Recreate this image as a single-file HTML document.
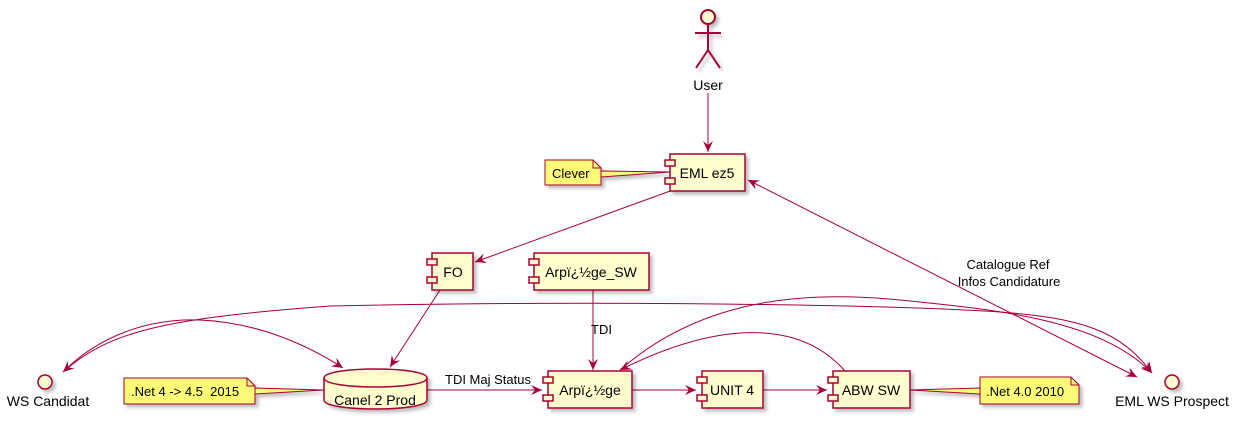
<!DOCTYPE html>
<html><head><meta charset="utf-8"><style>body{margin:0;background:#fff}svg{display:block}text{font-family:"Liberation Sans",sans-serif;font-size:14px;fill:#000}</style></head><body>
<svg width="1239" height="422" viewBox="0 0 1239 422" xmlns="http://www.w3.org/2000/svg">
<defs>
<marker id="a" viewBox="0 0 12 12" refX="11" refY="6" markerWidth="12" markerHeight="12" orient="auto-start-reverse" markerUnits="userSpaceOnUse"><path d="M0,1 L11,6 L0,11 L4,6 Z" fill="#A80036"/></marker>
<filter id="s"><feDropShadow dx="3" dy="3" stdDeviation="1.5" flood-color="#000" flood-opacity="0.25"/></filter>
</defs>
<g fill="none" stroke="#A80036" stroke-width="1">
<g filter="url(#s)" stroke-width="2"><circle cx="708" cy="17" r="7" fill="#FEFECE"/><path d="M708,24 V50 M695,33 H721 M708,50 L696,68 M708,50 L720,68"/></g>
<path d="M708,93 V152" marker-end="url(#a)"/>
<path d="M673,190 L475,262" marker-end="url(#a)"/>
<path d="M440,290 L390,367" marker-end="url(#a)"/>
<path d="M593,290 V370" marker-end="url(#a)"/>
<path d="M427,390 H542" marker-end="url(#a)"/>
<path d="M632,390 H696" marker-end="url(#a)"/>
<path d="M763,390 H827" marker-end="url(#a)"/>
<path d="M1137,377 L748,180" marker-end="url(#a)" marker-start="url(#a)"/>
<path d="M845,371 C800,320 720,320 620,370" marker-end="url(#a)"/>
<path d="M620,370 C700,300 800,290 900,300 C1000,310 1100,320 1152,373" marker-end="url(#a)"/>
<path d="M63,372 C110,330 170,318 330,306 C600,300 900,305 1000,312 C1080,318 1120,330 1152,373" marker-end="url(#a)" marker-start="url(#a)"/>
<path d="M63,372 C100,335 150,318 200,320 C250,322 300,340 343,368" marker-end="url(#a)"/>
</g>
<g filter="url(#s)" stroke="#A80036" fill="#FBFB77">
<path d="M545,160 H593 L601,168 V185 H545 Z"/>
<path d="M601,171 L670,172 L601,177 Z"/>
<path d="M124,378 H247 L255,386 V404 H124 Z"/>
<path d="M255,388 L324,390 L255,394 Z"/>
<path d="M980,377 H1071 L1079,385 V404 H980 Z"/>
<path d="M910,390 L980,388 L980,394 Z"/>
</g>
<g fill="none" stroke="#A80036"><path d="M593,160 V168 H601 M247,378 V386 H255 M1071,377 V385 H1079"/></g>
<g filter="url(#s)" stroke="#A80036" stroke-width="1.5" fill="#FEFECE">
<rect x="670" y="154" width="75" height="37"/>
<rect x="432" y="253" width="41" height="37"/>
<rect x="534" y="253" width="115" height="37"/>
<rect x="548" y="371" width="84" height="37"/>
<rect x="702" y="371" width="61" height="37"/>
<rect x="833" y="371" width="77" height="37"/>
<path d="M324,378 C324,366 427,366 427,378 V400 C427,412 324,412 324,400 Z"/>
<circle cx="45" cy="382" r="7"/>
<circle cx="1172" cy="382" r="7"/>
</g>
<g stroke="#A80036" stroke-width="1.5" fill="#FEFECE">
<rect x="665" y="160" width="10" height="6"/><rect x="665" y="178" width="10" height="6"/>
<rect x="427" y="259" width="10" height="6"/><rect x="427" y="277" width="10" height="6"/>
<rect x="529" y="259" width="10" height="6"/><rect x="529" y="277" width="10" height="6"/>
<rect x="543" y="377" width="10" height="6"/><rect x="543" y="395" width="10" height="6"/>
<rect x="697" y="377" width="10" height="6"/><rect x="697" y="395" width="10" height="6"/>
<rect x="828" y="377" width="10" height="6"/><rect x="828" y="395" width="10" height="6"/>
<path d="M324,378 C324,390 427,390 427,378" fill="none"/>
</g>
<text x="708" y="90" text-anchor="middle">User</text>
<text x="707" y="178" text-anchor="middle">EML ez5</text>
<text x="453" y="277" text-anchor="middle">FO</text>
<text x="591" y="277" text-anchor="middle">Arpï¿½ge_SW</text>
<text x="590" y="395" text-anchor="middle">Arpï¿½ge</text>
<text x="732" y="395" text-anchor="middle">UNIT 4</text>
<text x="871" y="395" text-anchor="middle">ABW SW</text>
<text x="375" y="405" text-anchor="middle">Canel 2 Prod</text>
<text x="48" y="406" text-anchor="middle">WS Candidat</text>
<text x="1172" y="406" text-anchor="middle">EML WS Prospect</text>
<text x="552" y="178" style="font-size:13px">Clever</text>
<text x="131" y="396" style="font-size:13px">.Net 4 -&gt; 4.5&#160; 2015</text>
<text x="986" y="396" style="font-size:13px">.Net 4.0 2010</text>
<text x="445" y="384" style="font-size:13px">TDI Maj Status</text>
<text x="591" y="334" style="font-size:13px">TDI</text>
<text x="1008" y="269" text-anchor="middle" style="font-size:13px">Catalogue Ref</text>
<text x="1009" y="286" text-anchor="middle" style="font-size:13px">Infos Candidature</text>
</svg>
</body></html>
